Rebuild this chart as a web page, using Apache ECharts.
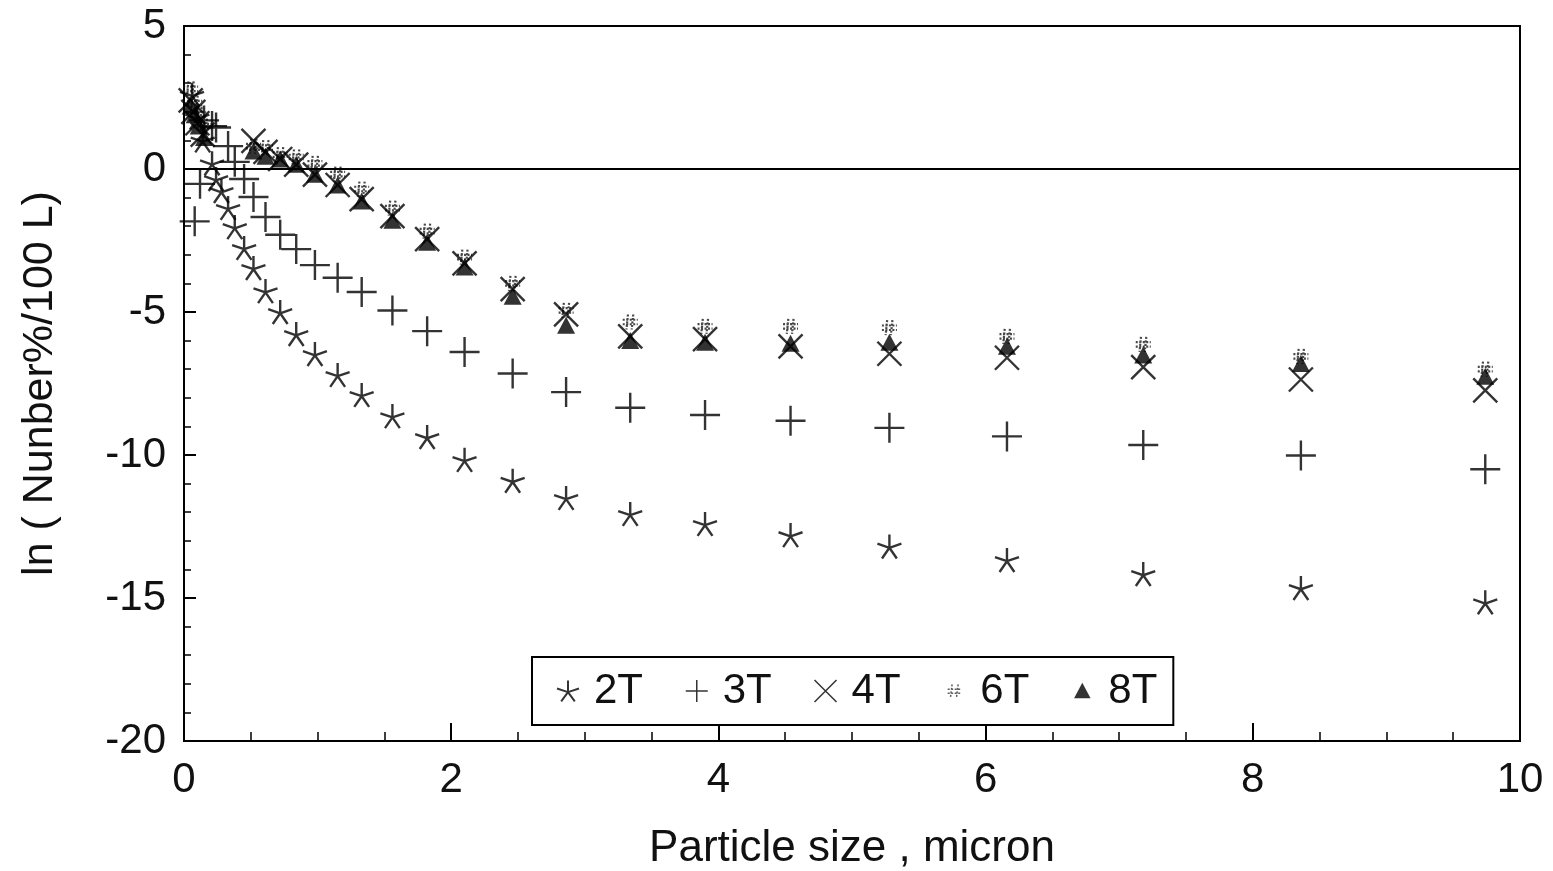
<!DOCTYPE html>
<html>
<head>
<meta charset="utf-8">
<script src="https://cdn.jsdelivr.net/npm/echarts@6/dist/echarts.min.js"></script>
<style>
  html, body { margin: 0; padding: 0; background: #fff; }
  #chart { width: 1553px; height: 871px; }
</style>
</head>
<body>
<div id="chart"></div>
<script>
// Particle size distributions, ln(number% / 100 L) vs particle size (micron)
const t2 = [[0.06,2.6],[0.10,1.8],[0.14,1.0],[0.21,0.2],[0.24,-0.35],[0.28,-0.77],[0.33,-1.36],[0.38,-2.03],[0.45,-2.76],[0.52,-3.46],[0.61,-4.27],[0.72,-5.0],[0.84,-5.77],[0.98,-6.47],[1.15,-7.2],[1.33,-7.9],[1.56,-8.64],[1.82,-9.37],[2.10,-10.17],[2.46,-10.9],[2.86,-11.5],[3.34,-12.06],[3.90,-12.41],[4.54,-12.8],[5.28,-13.2],[6.16,-13.67],[7.18,-14.16],[8.36,-14.65],[9.74,-15.15]];
const t3 = [[0.08,-1.83],[0.12,-0.52],[0.15,1.7],[0.21,1.5],[0.24,1.45],[0.33,0.8],[0.38,0.25],[0.45,-0.35],[0.52,-0.98],[0.61,-1.68],[0.72,-2.3],[0.84,-2.8],[0.98,-3.36],[1.15,-3.8],[1.33,-4.3],[1.56,-4.95],[1.82,-5.67],[2.10,-6.4],[2.46,-7.15],[2.86,-7.8],[3.34,-8.35],[3.90,-8.6],[4.54,-8.8],[5.28,-9.05],[6.16,-9.35],[7.18,-9.65],[8.36,-10.02],[9.74,-10.5]];
const t4 = [[0.05,2.4],[0.07,2.0],[0.10,1.6],[0.14,1.2],[0.52,0.98],[0.61,0.6],[0.72,0.35],[0.84,0.15],[0.98,-0.2],[1.15,-0.56],[1.33,-1.05],[1.56,-1.65],[1.82,-2.45],[2.10,-3.3],[2.46,-4.2],[2.86,-5.08],[3.34,-5.85],[3.90,-5.95],[4.54,-6.2],[5.28,-6.46],[6.16,-6.6],[7.18,-6.93],[8.36,-7.36],[9.74,-7.74]];
const t6 = [[0.05,2.8],[0.08,2.3],[0.11,1.9],[0.15,1.5],[0.52,0.8],[0.61,0.75],[0.72,0.5],[0.84,0.42],[0.98,0.2],[1.15,-0.18],[1.33,-0.7],[1.56,-1.37],[1.82,-2.17],[2.10,-3.08],[2.46,-4.0],[2.86,-4.94],[3.34,-5.35],[3.90,-5.5],[4.54,-5.5],[5.28,-5.55],[6.16,-5.85],[7.18,-6.13],[8.36,-6.55],[9.74,-7.0]];
const t8 = [[0.05,2.2],[0.08,1.9],[0.11,1.5],[0.15,1.1],[0.52,0.63],[0.61,0.45],[0.72,0.35],[0.84,0.17],[0.98,-0.18],[1.15,-0.56],[1.33,-1.12],[1.56,-1.79],[1.82,-2.56],[2.10,-3.43],[2.46,-4.45],[2.86,-5.46],[3.34,-6.0],[3.90,-6.06],[4.54,-6.09],[5.28,-6.06],[6.16,-6.2],[7.18,-6.5],[8.36,-6.8],[9.74,-7.25]];

const seriesNames = ['2T', '3T', '4T', '6T', '8T'];
const xTicks = { min: 0, max: 10, interval: 2 };
const yTicks = { min: -20, max: 5, interval: 5 };

// Marker outlines
const STAR = 'path://M10,10L10,0M10,10L19.51,6.91M10,10L15.88,18.09M10,10L4.12,18.09M10,10L0.49,6.91';
const PLUS = 'path://M0,10L20,10M10,0L10,20';
const CROSS = 'path://M0,0L20,20M20,0L0,20';
const HASH = 'path://M7,0L5,20M14,0L12,20M0,7L20,7M0,13L20,13';
const TRI = 'path://M10,2L17,15L3,15Z';
const HASH_ICON = 'path://M0,0M20,20M8,4L6.5,16M13.5,4L12,16M4,8.5L16,8.5M4,12L16,12';
const TRI_ICON = 'path://M0,0M20,20M10,2.5L17.5,16.5L2.5,16.5Z';

const ink = '#000';
const lineMark = { color: 'rgba(0,0,0,0)', borderColor: ink, borderWidth: 2.4 };

const font = '"Liberation Sans", Arial, Helvetica, sans-serif';

const chart = echarts.init(document.getElementById('chart'));
chart.setOption({
  animation: false,
  backgroundColor: '#fff',
  grid: {
    left: 184, right: 33, top: 26, bottom: 130,
    outerBoundsMode: 'none',
    show: true, borderColor: ink, borderWidth: 2, backgroundColor: 'transparent'
  },
  xAxis: {
    type: 'value', min: xTicks.min, max: xTicks.max, interval: xTicks.interval,
    name: 'Particle size , micron', nameLocation: 'middle', nameGap: 86,
    nameTextStyle: { fontFamily: font, fontSize: 44, color: '#111' },
    axisLine: { show: true, onZero: false, lineStyle: { color: ink, width: 2 } },
    axisTick: { show: true, inside: true, length: 18, lineStyle: { color: ink, width: 2 } },
    minorTick: { show: true, splitNumber: 4, length: 9, lineStyle: { color: ink, width: 1.5 } },
    axisLabel: { fontFamily: font, fontSize: 42, color: '#111', margin: 18 },
    splitLine: { show: false }
  },
  yAxis: {
    type: 'value', min: yTicks.min, max: yTicks.max, interval: yTicks.interval,
    name: 'ln ( Nunber%/100 L)', nameLocation: 'middle', nameGap: 122, nameRotate: 90,
    nameTextStyle: { fontFamily: font, fontSize: 43, color: '#111' },
    axisLine: { show: true, onZero: false, lineStyle: { color: ink, width: 2 } },
    axisTick: { show: true, inside: true, length: 12, lineStyle: { color: ink, width: 2 } },
    minorTick: { show: true, splitNumber: 5, length: 7, lineStyle: { color: ink, width: 1.5 } },
    axisLabel: { fontFamily: font, fontSize: 42, color: '#111', margin: 18 },
    splitLine: { show: false }
  },
  legend: {
    left: 532, top: 657,
    orient: 'horizontal',
    backgroundColor: '#fff',
    borderColor: ink, borderWidth: 2, borderRadius: 0,
    padding: [13, 16, 13, 24],
    itemWidth: 22, itemHeight: 22, itemGap: 42,
    textStyle: { fontFamily: font, fontSize: 42, color: '#111', padding: [0, 0, 0, 10] },
    data: [
      { name: seriesNames[0], icon: STAR, itemStyle: { color: 'rgba(0,0,0,0)', borderColor: ink, borderWidth: 2 } },
      { name: seriesNames[1], icon: PLUS, itemStyle: { color: 'rgba(0,0,0,0)', borderColor: ink, borderWidth: 1.5 } },
      { name: seriesNames[2], icon: CROSS, itemStyle: { color: 'rgba(0,0,0,0)', borderColor: ink, borderWidth: 1.5 } },
      { name: seriesNames[3], icon: HASH_ICON, itemStyle: { color: 'rgba(0,0,0,0)', borderColor: '#333', borderWidth: 1.5, borderType: [2, 1.5] } },
      { name: seriesNames[4], icon: TRI_ICON, itemStyle: { color: ink, borderColor: ink, borderWidth: 0 } }
    ]
  },
  series: [
    {
      name: seriesNames[0], type: 'scatter', data: t2,
      symbol: STAR, symbolSize: 24, itemStyle: lineMark, z: 5,
      markLine: {
        silent: true, symbol: 'none', label: { show: false },
        lineStyle: { color: ink, width: 2, type: 'solid' },
        data: [{ yAxis: 0 }]
      }
    },
    {
      name: seriesNames[1], type: 'scatter', data: t3,
      symbol: PLUS, symbolSize: 30, itemStyle: lineMark, z: 4
    },
    {
      name: seriesNames[2], type: 'scatter', data: t4,
      symbol: CROSS, symbolSize: 24, itemStyle: lineMark, z: 3
    },
    {
      name: seriesNames[3], type: 'scatter', data: t6,
      symbol: HASH, symbolSize: 15,
      itemStyle: { color: 'rgba(0,0,0,0)', borderColor: '#1a1a1a', borderWidth: 2.2, borderType: [2, 1.5] }, z: 2
    },
    {
      name: seriesNames[4], type: 'scatter', data: t8,
      symbol: TRI, symbolSize: [18, 17],
      itemStyle: { color: ink, borderColor: ink, borderWidth: 0 }, z: 6
    }
  ]
});
</script>
</body>
</html>
